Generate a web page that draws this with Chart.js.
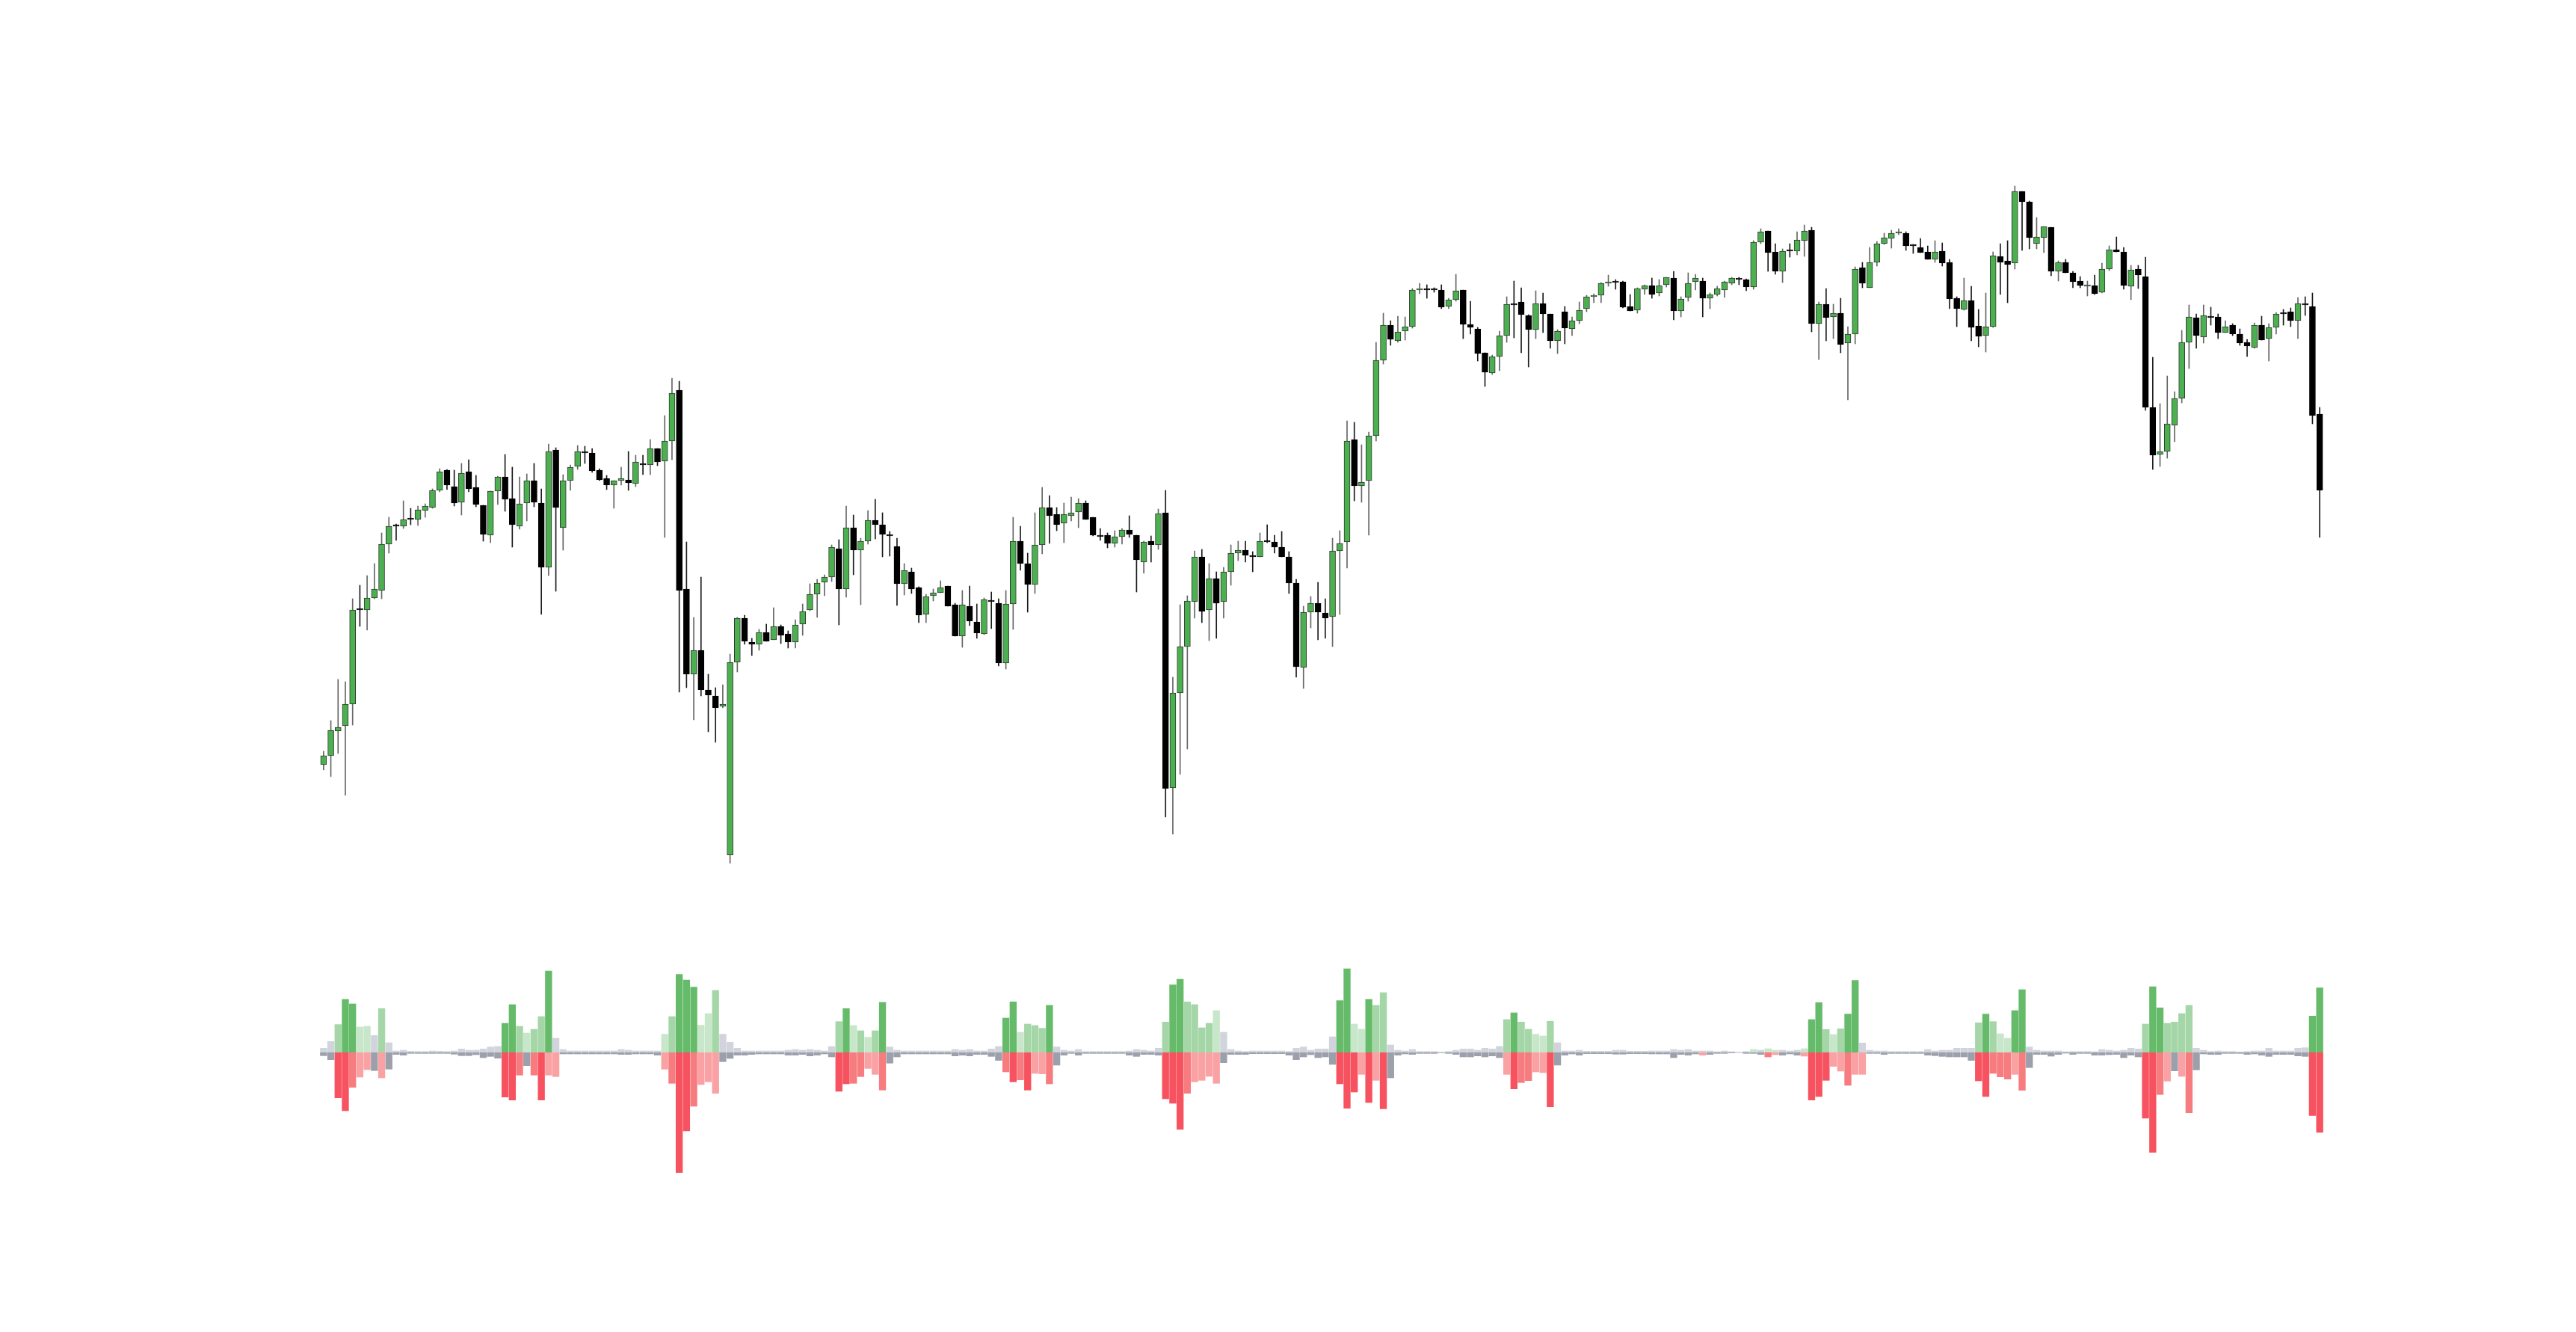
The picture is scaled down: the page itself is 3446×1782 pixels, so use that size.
<!DOCTYPE html>
<html>
<head>
<meta charset="utf-8">
<title>Candles and volume</title>
<script src="https://cdn.jsdelivr.net/npm/chart.js@4.4.1/dist/chart.umd.min.js"></script>
<style>
  html, body { margin: 0; padding: 0; background: #ffffff; }
  canvas { display: block; }
</style>
</head>
<body>
<canvas id="priceChart" width="3446" height="1782"></canvas>
<script>
// price data, one entry per candle (arbitrary price units)
const opens = [
  177,189,222,229,258,386,384,400,410,472, 498,496,506,505,517,521,544,571,549,528,
  569,548,524,484,543,562,533,496,527,557, 527,441,598,494,557,576,596,594,571,560,
  551,557,558,553,580,578,600,583,610,678, 412,298,330,277,269,255,56,314,373,341,
  338,354,344,362,352,341,365,384,405,421, 428,466,412,494,464,476,504,498,485,469,
  419,435,414,378,403,407,416,391,349,389, 368,352,396,393,313,392,476,446,418,471,
  521,512,500,510,515,527,508,484,484,473, 482,491,484,448,476,471,514,146,273,335,
  395,455,384,426,395,435,460,464,457,455, 476,475,468,455,420,307,381,393,380,375,
  463,475,612,550,557,617,718,765,744,757, 763,812,814,813,812,790,799,812,766,760,
  728,701,723,751,794,796,778,759,794,780, 744,783,760,771,787,803,805,821,824,823,
  790,785,813,818,808,819,828,784,802,823, 824,801,806,812,821,827,826,816,876,891,
  863,837,866,864,878,892,767,793,776,781, 741,753,842,815,849,874,881,888,888,872,
  869,863,853,864,849,801,786,798,764,751, 763,857,851,848,944,930,874,882,896,837,
  849,835,824,817,818,809,840,866,863,817, 840,830,655,592,596,631,667,742,775,749,
  777,776,755,765,753,742,735,765,747,762, 781,783,771,794,790,646
];
const highs = [
  195,236,291,288,399,417,430,446,487,508, 499,530,520,523,526,546,573,572,571,580,
  585,564,524,543,563,592,575,562,566,580, 546,606,601,565,578,604,603,600,573,564,
  557,575,596,591,591,612,600,644,694,690, 475,374,428,298,280,284,325,374,377,346,
  358,365,387,364,356,371,392,419,425,431, 471,478,523,511,480,517,532,514,489,480,
  446,440,415,405,412,423,416,393,410,416, 392,400,408,399,410,508,496,460,514,548,
  537,521,527,535,533,530,508,493,487,490, 493,510,484,476,483,519,544,294,391,403,
  463,465,446,435,441,471,476,476,462,487, 498,484,489,462,425,389,402,421,399,480,
  490,637,635,605,622,742,781,771,777,776, 814,821,819,815,819,801,833,812,797,762,
  728,725,757,803,824,815,779,811,808,780, 759,790,776,796,805,807,822,832,826,824,
  806,815,819,828,826,829,837,803,835,833, 828,808,817,824,829,829,827,878,894,891,
  874,867,874,890,899,896,796,814,793,801, 763,843,849,869,877,888,892,894,890,873,
  881,871,878,875,853,803,828,817,786,808, 863,874,878,951,944,931,909,897,896,851,
  853,837,830,824,832,848,871,883,869,845, 845,856,722,660,697,676,758,792,780,792,
  789,780,771,767,760,746,768,777,767,782, 786,788,802,803,808,655
];
const lows = [
  170,161,192,136,230,362,357,399,399,460, 477,493,498,497,508,520,542,545,523,511,
  542,522,476,474,525,516,468,492,503,522, 378,430,409,464,544,572,580,568,557,545,
  520,551,544,549,565,565,577,481,585,274, 280,237,269,221,207,253,45,301,338,323,
  330,342,344,339,333,333,350,383,374,403, 422,364,401,431,391,472,479,455,456,390,
  404,406,367,367,396,407,389,349,334,363, 346,351,359,309,305,358,437,381,406,459,
  473,490,474,503,494,505,483,477,467,468, 472,481,408,433,448,465,107,84,164,198,
  373,367,343,346,373,417,450,448,435,455, 474,460,455,406,294,279,360,344,346,335,
  378,440,530,528,484,610,713,738,742,745, 761,807,801,809,787,787,797,747,753,717,
  683,699,704,742,748,728,709,747,755,734, 727,740,751,767,783,795,795,817,813,788,
  784,781,806,801,804,816,772,776,797,812, 776,787,804,802,819,819,811,813,874,837,
  833,822,856,859,857,756,719,744,747,728, 665,740,815,815,844,873,868,886,865,861,
  862,853,849,844,787,763,785,744,736,729, 762,806,795,840,865,867,867,862,831,824,
  835,815,815,804,806,808,838,863,813,799, 814,651,572,576,587,609,661,707,734,741,
  765,747,755,751,738,723,734,745,717,753, 765,763,747,778,633,481
];
const closes = [
  189,223,227,258,384,384,400,412,472,496, 496,505,505,518,523,544,569,551,527,567,
  546,525,485,543,562,532,498,526,557,528, 441,596,521,557,575,596,594,570,558,551,
  557,560,554,582,578,600,582,610,674,410, 298,330,277,270,253,258,314,373,342,338,
  354,342,362,350,341,364,382,405,420,428, 468,412,494,464,476,504,498,485,483,419,
  437,412,377,402,407,414,389,349,391,369, 353,398,395,313,392,476,446,418,471,521,
  510,498,512,514,527,505,484,482,473,482, 491,485,451,475,471,513,145,273,335,396,
  455,382,426,393,435,460,464,457,455,476, 475,468,455,420,308,381,393,381,373,463,
  473,610,550,555,617,718,765,746,756,763, 812,813,812,812,789,799,811,766,762,727,
  702,723,751,793,794,779,759,794,780,744, 757,761,771,785,803,805,821,823,824,789,
  784,814,818,806,818,829,784,800,821,828, 801,806,814,823,828,826,816,876,890,862,
  837,864,866,879,891,767,793,775,781,739, 753,840,821,849,874,882,888,890,871,871,
  862,853,863,848,800,787,798,762,750,763, 858,849,846,944,930,882,883,897,837,849,
  835,823,818,818,807,840,866,863,818,839, 832,655,591,596,633,667,742,776,751,778,
  777,755,763,753,741,737,765,745,762,780, 780,771,794,792,644,544
];

// volume per candle: buy side (up) and sell side (down)
const buyVolume = [
  16,43,111,212,194,101,104,67,175,38, 5,8,4,3,3,5,4,3,5,13,
  8,8,13,21,23,116,191,104,77,92, 143,326,56,11,5,5,5,5,5,5,
  5,11,8,5,5,5,5,72,143,312, 290,261,108,155,248,72,40,16,5,5,
  5,5,5,5,8,11,8,11,8,5, 23,123,175,107,86,60,86,200,21,8,
  5,5,5,5,5,5,5,11,8,11, 5,5,13,23,137,202,80,113,107,96,
  188,21,8,5,11,3,3,3,3,3, 3,5,11,8,5,16,121,270,293,202,
  191,98,116,167,80,11,5,3,5,5, 5,5,5,3,16,21,8,13,13,62,
  207,335,113,92,212,188,239,29,8,5, 11,3,3,3,1,3,8,13,13,8,
  16,13,23,131,158,121,92,72,65,124, 38,5,5,8,4,4,4,4,8,8,
  4,4,4,5,5,5,11,8,11,5, 5,5,2,5,2,1,3,11,8,14,
  8,8,5,8,14,131,199,91,71,94, 153,288,37,8,5,5,3,3,3,3,
  3,11,5,8,8,16,16,16,118,153, 123,74,56,167,251,21,8,5,5,5,
  2,3,3,3,2,11,8,5,8,16, 13,113,263,178,116,121,155,188,16,8,
  3,5,3,3,1,3,5,5,16,5, 5,5,16,18,145,258
];
const sellVolume = [
  14,30,183,235,141,100,70,74,103,68, 9,12,5,5,5,5,5,5,8,14,
  14,10,22,17,24,180,192,92,54,92, 192,92,98,7,7,7,7,7,7,7,
  7,9,9,7,7,7,12,68,125,483, 316,217,130,119,165,38,25,12,12,9,
  7,7,7,7,12,12,9,15,12,7, 19,157,127,125,98,65,89,152,44,19,
  7,7,7,7,7,7,7,15,12,15, 9,9,17,33,79,119,111,152,85,87,
  127,52,12,5,12,5,5,5,5,5, 5,12,17,9,9,12,187,205,310,165,
  119,113,97,125,42,9,9,9,6,6, 6,6,6,12,30,19,10,22,19,49,
  127,225,160,89,202,113,227,103,12,7, 9,5,5,5,2,5,9,19,19,15,
  19,15,22,89,147,122,114,79,82,219, 52,12,7,12,6,6,6,6,8,8,
  6,6,6,7,7,7,22,9,12,7, 12,9,5,5,3,1,5,5,9,19,
  10,12,7,12,16,192,178,113,57,76, 133,89,89,5,5,9,5,5,5,5,
  5,12,14,17,19,19,19,33,115,178, 85,99,108,89,153,62,9,9,16,9,
  4,9,5,5,12,12,10,9,22,12, 19,265,402,170,116,75,97,243,71,7,
  9,9,5,5,5,9,7,12,17,9, 9,9,15,17,254,322
];

// intensity class of each volume bar (0 = neutral, 3 = strongest)
const buyTier = [
  0,0,2,3,3,1,1,0,2,0, 0,0,0,0,0,0,0,0,0,0, 0,0,0,0,0,3,3,2,1,2, 2,3,0,0,0,0,0,0,0,0,
  0,0,0,0,0,0,0,1,2,3, 3,3,1,1,2,0,0,0,0,0, 0,0,0,0,0,0,0,0,0,0, 0,2,3,1,2,1,2,3,0,0,
  0,0,0,0,0,0,0,0,0,0, 0,0,0,0,3,3,1,2,2,2, 3,0,0,0,0,0,0,0,0,0, 0,0,0,0,0,0,2,3,3,2,
  2,2,2,1,0,0,0,0,0,0, 0,0,0,0,0,0,0,0,0,0, 3,3,1,1,3,2,2,0,0,0, 0,0,0,0,0,0,0,0,0,0,
  0,0,0,2,3,2,2,1,1,2, 0,0,0,0,0,0,0,0,0,0, 0,0,0,0,0,0,0,0,0,0, 0,0,0,0,0,0,0,1,0,1,
  1,0,0,0,1,3,3,2,1,2, 3,3,0,0,0,0,0,0,0,0, 0,0,0,0,0,0,0,0,2,3, 2,1,1,3,3,0,0,0,0,0,
  0,0,0,0,0,0,0,0,0,0, 0,2,3,3,2,2,2,2,0,0, 0,0,0,0,0,0,0,0,0,0, 0,0,0,0,3,3
];
const sellTier = [
  0,0,3,3,2,1,1,0,1,0, 0,0,0,0,0,0,0,0,0,0, 0,0,0,0,0,3,3,2,0,2, 3,1,1,0,0,0,0,0,0,0,
  0,0,0,0,0,0,0,1,2,3, 3,2,1,1,1,0,0,0,0,0, 0,0,0,0,0,0,0,0,0,0, 0,3,3,2,2,1,1,2,0,0,
  0,0,0,0,0,0,0,0,0,0, 0,0,0,0,2,3,2,3,1,1, 2,0,0,0,0,0,0,0,0,0, 0,0,0,0,0,0,3,3,3,2,
  1,1,1,1,0,0,0,0,0,0, 0,0,0,0,0,0,0,0,0,0, 3,3,3,1,3,1,3,0,0,0, 0,0,0,0,0,0,0,0,0,0,
  0,0,0,1,3,2,2,1,1,3, 0,0,0,0,0,0,0,0,0,0, 0,0,0,0,0,0,0,0,0,0, 1,0,0,0,0,0,0,0,0,2,
  1,0,0,0,1,3,3,3,1,1, 2,1,1,0,0,0,0,0,0,0, 0,0,0,0,0,0,0,0,3,3, 2,2,2,1,2,0,0,0,0,0,
  0,0,0,0,0,0,0,0,0,0, 0,3,3,2,1,0,1,2,0,0, 0,0,0,0,0,0,0,0,0,0, 0,0,0,0,3,3
];

(function() {
    'use strict';

    const canvas = document.getElementById('priceChart');
    if (!canvas || typeof Chart === 'undefined') {
        console.error('chart: canvas or Chart.js missing');
        return;
    }

    const labels = opens.map((_, i) => String(i + 1));
    const isUp = opens.map((o, i) => closes[i] > o);

    // colours
    const upBody = '#4caf50';
    const upEdge = '#2f3a2f';
    const downBody = '#000000';
    const buyColours = ['#d1d4dc', '#c8e6c9', '#a5d6a7', '#66bb6a'];
    const sellColours = ['#9ca0ab', '#faa1a4', '#f77c80', '#f7525f'];

    const datasets = [
        {
            // wicks
            label: 'range',
            data: lows.map((l, i) => [l, highs[i]]),
            yAxisID: 'y',
            grouped: false,
            barThickness: 1,
            backgroundColor: isUp.map(u => u ? '#666666' : '#1a1a1a'),
            borderWidth: 0,
            order: 2
        },
        {
            // bodies
            label: 'body',
            data: opens.map((o, i) => [o, closes[i]]),
            yAxisID: 'y',
            grouped: false,
            barThickness: 8,
            minBarLength: 2,
            backgroundColor: isUp.map(u => u ? upBody : downBody),
            borderColor: isUp.map(u => u ? upEdge : downBody),
            borderWidth: 1,
            borderSkipped: false,
            order: 1
        },
        {
            label: 'buy volume',
            data: buyVolume,
            yAxisID: 'v',
            grouped: false,
            barThickness: 8.7,
            backgroundColor: buyTier.map(t => buyColours[t]),
            borderWidth: 0,
            order: 3
        },
        {
            label: 'sell volume',
            data: sellVolume.map(v => -v),
            yAxisID: 'v',
            grouped: false,
            barThickness: 8.7,
            backgroundColor: sellTier.map(t => sellColours[t]),
            borderWidth: 0,
            order: 3
        }
    ];

    const config = {
        type: 'bar',
        data: {
            labels: labels,
            datasets: datasets
        },
        options: {
            responsive: false,
            animation: false,
            devicePixelRatio: 1,
            layout: {
                padding: { top: 0, bottom: 0, left: 428, right: 338 }
            },
            plugins: {
                legend: { display: false },
                tooltip: { enabled: false }
            },
            scales: {
                x: {
                    display: false,
                    offset: true,
                    grid: { display: false }
                },
                y: {
                    display: false,
                    min: -582,
                    max: 1200
                },
                v: {
                    display: false,
                    min: -1123,
                    max: 4223
                }
            }
        }
    };

    try {
        new Chart(canvas, config);
    } catch (error) {
        console.error('chart: failed to create', error);
    }
})();
</script>
</body>
</html>
